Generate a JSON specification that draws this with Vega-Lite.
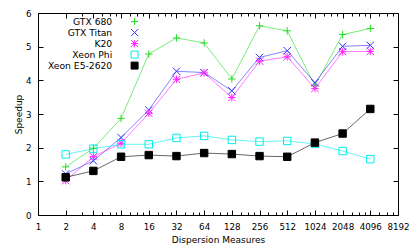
{
  "$schema": "https://vega.github.io/schema/vega-lite/v6.json",
  "width": 360,
  "height": 202,
  "autosize": {"type": "none"},
  "padding": {"left": 38, "top": 13, "right": 17, "bottom": 34},
  "background": "white",
  "config": {
    "font": "DejaVu Sans",
    "view": {"stroke": "#000", "strokeWidth": 1},
    "axis": {"labelFont": "DejaVu Sans", "labelFontSize": 8.7, "labelColor": "#000", "titleFont": "DejaVu Sans", "titleFontSize": 9, "titleFontWeight": "normal", "titleColor": "#000", "tickColor": "#000", "domain": false, "grid": false, "labelOverlap": false, "labelFlush": false},
    "legend": {"labelFont": "DejaVu Sans", "labelFontSize": 9.2, "labelColor": "#000"}
  },
  "data": {"values": [
    {"dm": 2, "series": "GTX 680", "speedup": 1.43},
    {"dm": 4, "series": "GTX 680", "speedup": 1.98},
    {"dm": 8, "series": "GTX 680", "speedup": 2.87},
    {"dm": 16, "series": "GTX 680", "speedup": 4.78},
    {"dm": 32, "series": "GTX 680", "speedup": 5.26},
    {"dm": 64, "series": "GTX 680", "speedup": 5.11},
    {"dm": 128, "series": "GTX 680", "speedup": 4.04},
    {"dm": 256, "series": "GTX 680", "speedup": 5.62},
    {"dm": 512, "series": "GTX 680", "speedup": 5.47},
    {"dm": 1024, "series": "GTX 680", "speedup": 3.84},
    {"dm": 2048, "series": "GTX 680", "speedup": 5.36},
    {"dm": 4096, "series": "GTX 680", "speedup": 5.54},
    {"dm": 2, "series": "GTX Titan", "speedup": 1.22},
    {"dm": 4, "series": "GTX Titan", "speedup": 1.61},
    {"dm": 8, "series": "GTX Titan", "speedup": 2.3},
    {"dm": 16, "series": "GTX Titan", "speedup": 3.12},
    {"dm": 32, "series": "GTX Titan", "speedup": 4.27},
    {"dm": 64, "series": "GTX Titan", "speedup": 4.23},
    {"dm": 128, "series": "GTX Titan", "speedup": 3.69},
    {"dm": 256, "series": "GTX Titan", "speedup": 4.68},
    {"dm": 512, "series": "GTX Titan", "speedup": 4.88},
    {"dm": 1024, "series": "GTX Titan", "speedup": 3.93},
    {"dm": 2048, "series": "GTX Titan", "speedup": 5.01},
    {"dm": 4096, "series": "GTX Titan", "speedup": 5.04},
    {"dm": 2, "series": "K20", "speedup": 1.02},
    {"dm": 4, "series": "K20", "speedup": 1.73},
    {"dm": 8, "series": "K20", "speedup": 2.13},
    {"dm": 16, "series": "K20", "speedup": 3.02},
    {"dm": 32, "series": "K20", "speedup": 4.03},
    {"dm": 64, "series": "K20", "speedup": 4.22},
    {"dm": 128, "series": "K20", "speedup": 3.49},
    {"dm": 256, "series": "K20", "speedup": 4.57},
    {"dm": 512, "series": "K20", "speedup": 4.7},
    {"dm": 1024, "series": "K20", "speedup": 3.76},
    {"dm": 2048, "series": "K20", "speedup": 4.85},
    {"dm": 4096, "series": "K20", "speedup": 4.86},
    {"dm": 2, "series": "Xeon Phi", "speedup": 1.8},
    {"dm": 4, "series": "Xeon Phi", "speedup": 1.97},
    {"dm": 8, "series": "Xeon Phi", "speedup": 2.1},
    {"dm": 16, "series": "Xeon Phi", "speedup": 2.1},
    {"dm": 32, "series": "Xeon Phi", "speedup": 2.29},
    {"dm": 64, "series": "Xeon Phi", "speedup": 2.35},
    {"dm": 128, "series": "Xeon Phi", "speedup": 2.23},
    {"dm": 256, "series": "Xeon Phi", "speedup": 2.18},
    {"dm": 512, "series": "Xeon Phi", "speedup": 2.2},
    {"dm": 1024, "series": "Xeon Phi", "speedup": 2.11},
    {"dm": 2048, "series": "Xeon Phi", "speedup": 1.9},
    {"dm": 4096, "series": "Xeon Phi", "speedup": 1.66},
    {"dm": 2, "series": "Xeon E5-2620", "speedup": 1.12},
    {"dm": 4, "series": "Xeon E5-2620", "speedup": 1.31},
    {"dm": 8, "series": "Xeon E5-2620", "speedup": 1.73},
    {"dm": 16, "series": "Xeon E5-2620", "speedup": 1.78},
    {"dm": 32, "series": "Xeon E5-2620", "speedup": 1.75},
    {"dm": 64, "series": "Xeon E5-2620", "speedup": 1.84},
    {"dm": 128, "series": "Xeon E5-2620", "speedup": 1.81},
    {"dm": 256, "series": "Xeon E5-2620", "speedup": 1.75},
    {"dm": 512, "series": "Xeon E5-2620", "speedup": 1.73},
    {"dm": 1024, "series": "Xeon E5-2620", "speedup": 2.15},
    {"dm": 2048, "series": "Xeon E5-2620", "speedup": 2.42},
    {"dm": 4096, "series": "Xeon E5-2620", "speedup": 3.15}
  ]},
  "resolve": {"axis": {"x": "independent", "y": "independent"}},
  "layer": [
    {
      "mark": {"type": "line", "strokeWidth": 1, "strokeOpacity": 0.6},
      "encoding": {
        "x": {"field": "dm", "type": "quantitative",
          "scale": {"type": "log", "base": 2, "domain": [1, 8192], "nice": false},
          "axis": {"orient": "bottom", "title": "Dispersion Measures", "titlePadding": 3, "format": "d",
            "values": [1,2,3,4,5,6,7,8,10,12,14,16,20,24,28,32,40,48,56,64,80,96,112,128,160,192,224,256,320,384,448,512,640,768,896,1024,1280,1536,1792,2048,2560,3072,3584,4096,5120,6144,7168,8192],
            "labelExpr": "indexof([1,2,4,8,16,32,64,128,256,512,1024,2048,4096,8192], datum.value) >= 0 ? datum.label : ''",
            "tickSize": {"condition": {"test": "indexof([1,2,4,8,16,32,64,128,256,512,1024,2048,4096,8192], datum.value) >= 0", "value": -5}, "value": -3},
            "labelPadding": 12}},
        "y": {"field": "speedup", "type": "quantitative",
          "scale": {"domain": [0, 6], "nice": false, "zero": true},
          "axis": {"orient": "left", "title": "Speedup", "values": [0,1,2,3,4,5,6], "tickSize": -5, "labelPadding": 12, "titlePadding": 2}},
        "stroke": {"field": "series", "type": "nominal",
          "scale": {"domain": ["GTX 680", "GTX Titan", "K20", "Xeon Phi", "Xeon E5-2620"], "range": ["#22dd22", "#3333ff", "#ff22ff", "#00eeee", "#000000"]}}
      }
    },
    {
      "mark": {"type": "point", "filled": false, "strokeWidth": 1, "size": 55, "opacity": 1},
      "encoding": {
        "x": {"field": "dm", "type": "quantitative",
          "scale": {"type": "log", "base": 2, "domain": [1, 8192], "nice": false},
          "axis": {"orient": "top", "title": null, "labels": false,
            "values": [1,2,3,4,5,6,7,8,10,12,14,16,20,24,28,32,40,48,56,64,80,96,112,128,160,192,224,256,320,384,448,512,640,768,896,1024,1280,1536,1792,2048,2560,3072,3584,4096,5120,6144,7168,8192],
            "tickSize": {"condition": {"test": "indexof([1,2,4,8,16,32,64,128,256,512,1024,2048,4096,8192], datum.value) >= 0", "value": -5}, "value": -3}}},
        "y": {"field": "speedup", "type": "quantitative",
          "scale": {"domain": [0, 6], "nice": false, "zero": true},
          "axis": {"orient": "right", "title": null, "labels": false, "values": [0,1,2,3,4,5,6], "tickSize": -5}},
        "stroke": {"field": "series", "type": "nominal",
          "scale": {"domain": ["GTX 680", "GTX Titan", "K20", "Xeon Phi", "Xeon E5-2620"], "range": ["#22dd22", "#3333ff", "#ff22ff", "#00eeee", "#000000"]},
          "legend": {"title": null, "orient": "none", "legendX": 92, "legendY": 4, "labelAlign": "right", "labelOffset": -27, "symbolSize": 49, "symbolStrokeWidth": 1, "rowPadding": -1.3}},
        "shape": {"field": "series", "type": "nominal",
          "scale": {"domain": ["GTX 680", "GTX Titan", "K20", "Xeon Phi", "Xeon E5-2620"], "range": ["M-1,0H1M0,-1V1", "M-1,-1L1,1M-1,1L1,-1", "M-1,0H1M0,-1V1M-1,-1L1,1M-1,1L1,-1", "square", "square"]}},
        "fill": {"field": "series", "type": "nominal",
          "scale": {"domain": ["GTX 680", "GTX Titan", "K20", "Xeon Phi", "Xeon E5-2620"], "range": ["transparent", "transparent", "transparent", "transparent", "#000000"]}}
      }
    }
  ]
}
